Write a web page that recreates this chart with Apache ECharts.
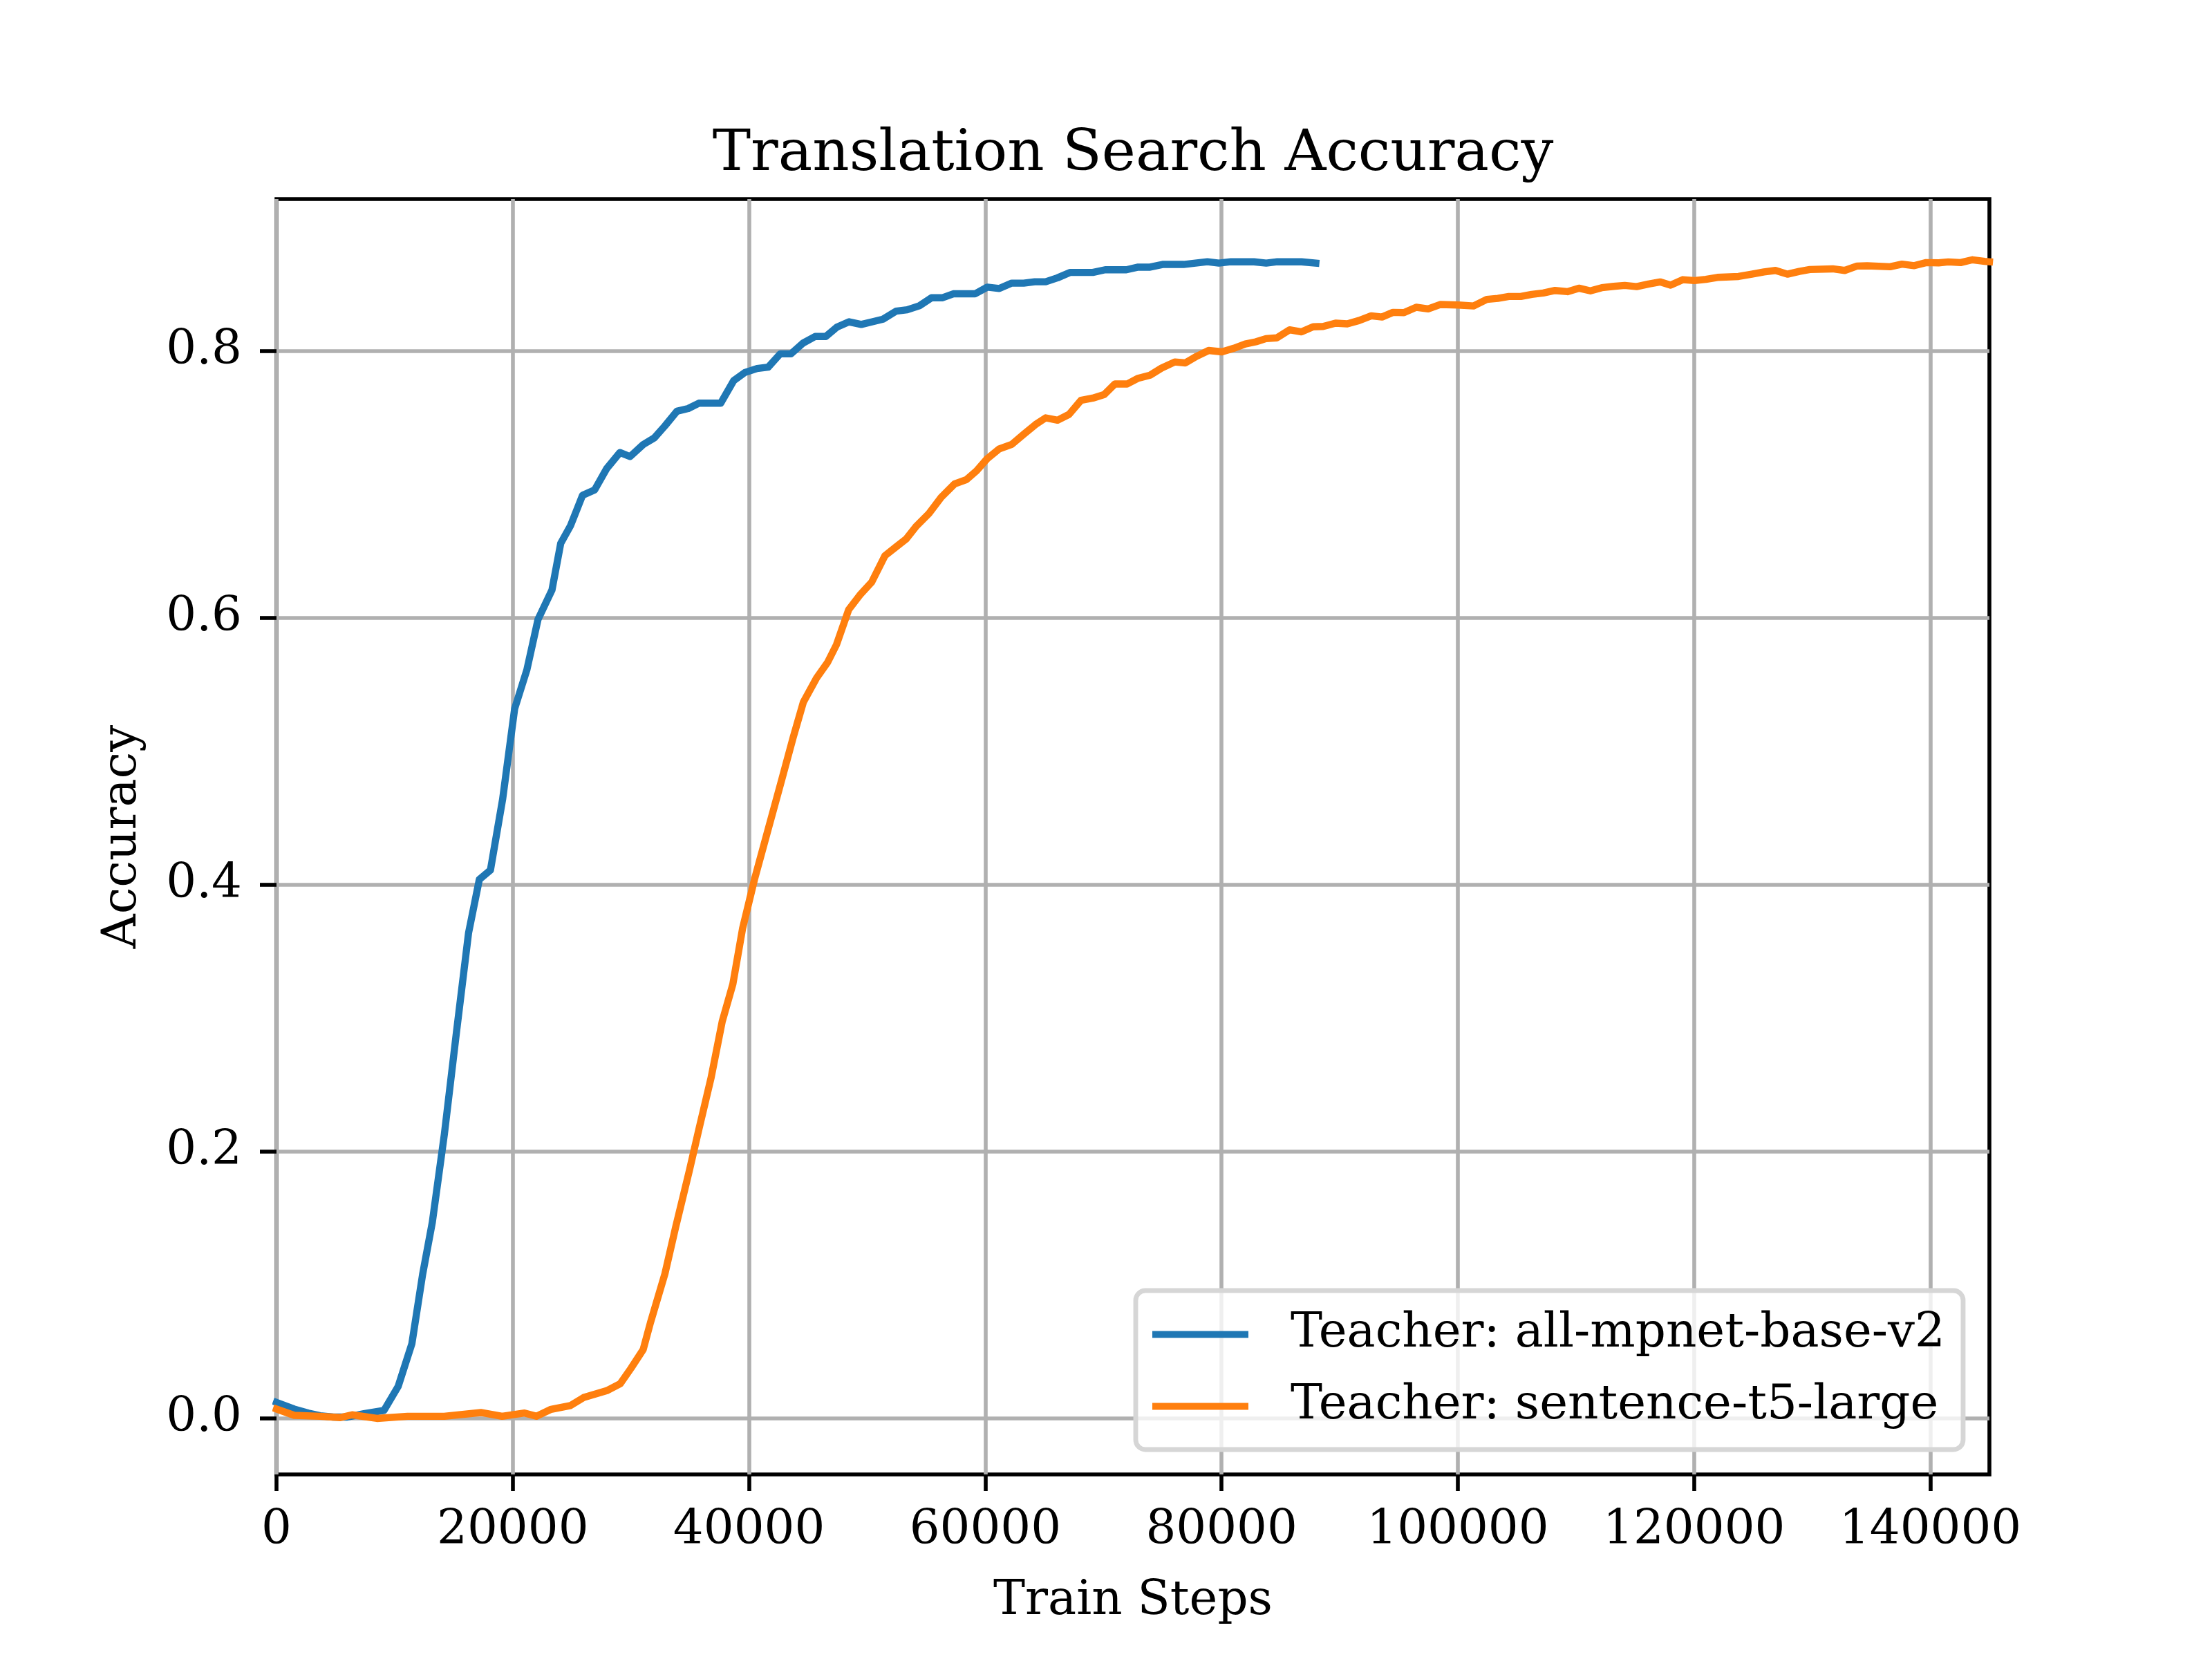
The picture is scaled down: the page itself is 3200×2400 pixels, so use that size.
<!DOCTYPE html>
<html>
<head>
<meta charset="utf-8">
<title>Translation Search Accuracy</title>
<script src="https://cdn.jsdelivr.net/npm/echarts@6.0.0/dist/echarts.min.js"></script>
<style>
  html, body { margin: 0; padding: 0; background: #fff; }
  #chart { width: 3200px; height: 2400px; }
</style>
</head>
<body>
<div id="chart"></div>
<script>
// values
const blueSteps = [0, 1500, 2700, 3700, 4800, 6000, 7400, 9100,
  10300, 11460, 12370, 13190, 14210, 15240, 16260, 17170, 18110, 19140,
  20160, 21190, 22140, 23320, 24060, 24880, 25910, 26930, 27950, 29070,
  29930, 31040, 31980, 32880, 33900, 34850, 35750, 36700, 37600, 38710,
  39650, 40680, 41620, 42640, 43550, 44570, 45600, 46500, 47440, 48470,
  49500, 50440, 51340, 52450, 53390, 54420, 55440, 56350, 57290, 58200,
  59140, 60170, 61190, 62240, 63250, 64180, 65110, 66120, 67160, 68100,
  69100, 70150, 71040, 71940, 72940, 73950, 75000, 75900, 76790, 77790,
  78800, 79770, 80780, 81760, 82750, 83780, 84720, 85760, 86770, 87980]
const blueAcc = [0.012, 0.007, 0.004, 0.002, 0.001, 0.001, 0.0035, 0.006,
  0.024, 0.056, 0.108, 0.147, 0.213, 0.290, 0.364, 0.404, 0.411, 0.464,
  0.532, 0.561, 0.599, 0.621, 0.656, 0.669, 0.692, 0.696, 0.712, 0.724,
  0.721, 0.730, 0.735, 0.744, 0.755, 0.757, 0.761, 0.761, 0.761, 0.778,
  0.784, 0.787, 0.788, 0.798, 0.798, 0.806, 0.811, 0.811, 0.818, 0.822,
  0.820, 0.822, 0.824, 0.830, 0.831, 0.834, 0.840, 0.840, 0.843, 0.843,
  0.843, 0.848, 0.847, 0.851, 0.851, 0.852, 0.852, 0.855, 0.859, 0.859,
  0.859, 0.861, 0.861, 0.861, 0.863, 0.863, 0.865, 0.865, 0.865, 0.866,
  0.867, 0.866, 0.867, 0.867, 0.867, 0.866, 0.867, 0.867, 0.867, 0.866]

const orangeSteps = [0, 1500, 3700, 5400, 6400, 8500, 11100, 14200, 17300, 19100,
  21000, 22000, 23240, 24880, 25990, 27960, 29110, 30010, 31040, 31650,
  32880, 33790, 34940, 35760, 36790, 37730, 38630, 39460, 40490, 41600,
  42730, 43740, 44600, 45720, 46650, 47400, 48440, 49450, 50380, 51500,
  52430, 53290, 54180, 55230, 56270, 57390, 58400, 59260, 60150, 61190,
  62240, 63250, 64250, 65110, 66120, 67090, 68100, 69100, 70070, 70970,
  72010, 72940, 73950, 74920, 76040, 76930, 77900, 78910, 80030, 81040,
  82010, 82900, 83760, 84690, 85760, 86770, 87750, 88600, 89650, 90640,
  91650, 92670, 93580, 94510, 95440, 96480, 97490, 98540, 100030, 101330,
  102450, 103390, 104320, 105330, 106260, 107230, 108230, 109280, 110250, 111220,
  112190, 113200, 114130, 115140, 116150, 117120, 118010, 119060, 120030, 121000,
  121970, 123760, 124880, 125920, 126890, 127900, 128910, 129800, 131740, 132750,
  133790, 134650, 136590, 137600, 138640, 139650, 140700, 141520, 142560, 143570,
  144610, 145000]
const orangeAcc = [0.007, 0.0023, 0.0016, 0.0006, 0.0027, 0.0, 0.0016, 0.0016, 0.0044, 0.0016,
  0.004, 0.0016, 0.0068, 0.0096, 0.0156, 0.0208, 0.0261, 0.0376, 0.0516, 0.0716,
  0.1084, 0.1434, 0.1854, 0.2169, 0.2554, 0.2975, 0.3255, 0.3675, 0.405, 0.441,
  0.4775, 0.5105, 0.5369, 0.5551, 0.5667, 0.5799, 0.6063, 0.6179, 0.6268, 0.6466,
  0.6532, 0.6591, 0.669, 0.6783, 0.6905, 0.7004, 0.7037, 0.7103, 0.7193, 0.7268,
  0.7301, 0.7377, 0.745, 0.75, 0.7483, 0.7526, 0.7632, 0.7648, 0.7675, 0.7754,
  0.7754, 0.7797, 0.782, 0.7873, 0.7919, 0.7912, 0.7962, 0.8005, 0.7995, 0.8022,
  0.8054, 0.807, 0.8094, 0.81, 0.816, 0.8145, 0.8183, 0.8185, 0.821, 0.8205,
  0.823, 0.8265, 0.8256, 0.8291, 0.8289, 0.8329, 0.8317, 0.835, 0.8346, 0.8339,
  0.8388, 0.8396, 0.841, 0.841, 0.8426, 0.8436, 0.8455, 0.8446, 0.8472, 0.8452,
  0.8476, 0.8486, 0.8493, 0.8484, 0.8503, 0.8519, 0.8495, 0.8536, 0.8529, 0.8538,
  0.8553, 0.856, 0.8577, 0.8594, 0.8605, 0.8577, 0.8598, 0.8612, 0.8617, 0.8605,
  0.8638, 0.864, 0.8633, 0.8652, 0.8641, 0.8664, 0.8662, 0.8669, 0.8664, 0.8685,
  0.8673, 0.867]

const xTicks = [0, 20000, 40000, 60000, 80000, 100000, 120000, 140000]
const yTicks = [0, 0.2, 0.4, 0.6, 0.8]

const seriesNames = ['Teacher: all-mpnet-base-v2', 'Teacher: sentence-t5-large']
const seriesColors = ['#1f77b4', '#ff7f0e']

const FONT = 'DejaVu Serif'
const zip = (xs, ys) => xs.map((x, i) => [x, ys[i]])

const chart = echarts.init(document.getElementById('chart'), null, { renderer: 'canvas' })

const axisText = { fontFamily: FONT, fontSize: 69, color: '#000' }

const option = {
  animation: false,
  backgroundColor: '#fff',
  color: seriesColors,
  graphic: [{
    type: 'text',
    x: 1639,
    y: 224,
    style: {
      text: 'Translation Search Accuracy',
      fontFamily: FONT,
      fontSize: 83,
      fill: '#000',
      align: 'center',
      verticalAlign: 'middle'
    }
  }],
  grid: {
    left: 400,
    right: 322,
    top: 288,
    bottom: 267,
    show: true,
    borderColor: '#000',
    borderWidth: 5.6,
    backgroundColor: 'transparent'
  },
  legend: {
    orient: 'vertical',
    left: 1643,
    top: 1867,
    padding: [29, 26, 28, 24],
    itemWidth: 139,
    itemHeight: 10,
    itemGap: 35,
    icon: 'rect',
    backgroundColor: 'rgba(255,255,255,0.8)',
    borderColor: '#d6d6d6',
    borderWidth: 6.9,
    borderRadius: 14,
    textStyle: { fontFamily: FONT, fontSize: 69, color: '#000', padding: [0, 0, 0, 56] },
    data: seriesNames
  },
  xAxis: {
    type: 'value',
    min: 0,
    max: 145000,
    interval: 20000,
    name: 'Train Steps',
    nameLocation: 'middle',
    nameGap: 150,
    nameTextStyle: axisText,
    axisLine: { show: false, onZero: false },
    axisTick: { show: true, length: 24, customValues: xTicks, lineStyle: { color: '#000', width: 5.6 } },
    axisLabel: { ...axisText, margin: 48, customValues: xTicks, formatter: v => String(v) },
    splitLine: { show: true, lineStyle: { color: '#b0b0b0', width: 5.6 } }
  },
  yAxis: {
    type: 'value',
    min: -0.042,
    max: 0.914,
    name: 'Accuracy',
    nameLocation: 'middle',
    nameRotate: 90,
    nameGap: 187,
    nameTextStyle: axisText,
    axisLine: { show: false, onZero: false },
    axisTick: { show: true, length: 24, customValues: yTicks, lineStyle: { color: '#000', width: 5.6 } },
    axisLabel: { ...axisText, margin: 50, customValues: yTicks, formatter: v => v.toFixed(1) },
    splitLine: { show: true, lineStyle: { color: '#b0b0b0', width: 5.6 } }
  },
  series: [
    {
      name: seriesNames[0],
      type: 'line',
      showSymbol: false,
      data: zip(blueSteps, blueAcc),
      lineStyle: { color: seriesColors[0], width: 10.4, join: 'round', cap: 'square' },
      itemStyle: { color: seriesColors[0] }
    },
    {
      name: seriesNames[1],
      type: 'line',
      showSymbol: false,
      data: zip(orangeSteps, orangeAcc),
      lineStyle: { color: seriesColors[1], width: 10.4, join: 'round', cap: 'square' },
      itemStyle: { color: seriesColors[1] }
    }
  ]
}

chart.setOption(option)
</script>
</body>
</html>
